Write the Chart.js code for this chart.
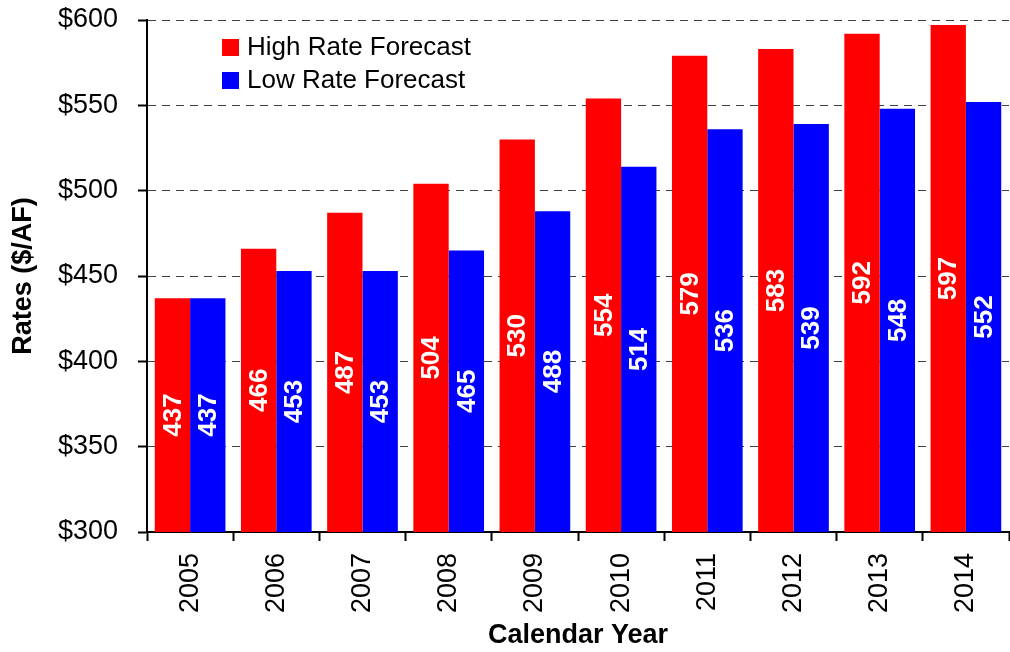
<!DOCTYPE html>
<html>
<head>
<meta charset="utf-8">
<script src="https://cdn.jsdelivr.net/npm/chart.js@4.4.0/dist/chart.umd.min.js"></script>
<style>
  html, body { margin: 0; padding: 0; background: #fff; }
  #wrap { width: 1010px; height: 652px; }
</style>
</head>
<body>
<div id="wrap"><canvas id="rateChart" width="1010" height="652"></canvas></div>
<script>
// data
const years = ['2005', '2006', '2007', '2008', '2009', '2010', '2011', '2012', '2013', '2014'];
const highRate = [437, 466, 487, 504, 530, 554, 579, 583, 592, 597];
const lowRate = [437, 453, 453, 465, 488, 514, 536, 539, 548, 552];
const yTicks = [300, 350, 400, 450, 500, 550, 600];

const FONT = "'Liberation Sans', Arial, sans-serif";

// white value labels, rotated, centred in the visible part of each bar
const barLabels = {
    id: 'barLabels',
    afterDatasetsDraw(chart) {
        const ctx = chart.ctx;
        const bottom = chart.chartArea.bottom;
        ctx.save();
        ctx.fillStyle = '#fff';
        ctx.font = 'bold 26px ' + FONT;
        ctx.textAlign = 'center';
        ctx.textBaseline = 'middle';
        chart.data.datasets.forEach((ds, i) => {
            chart.getDatasetMeta(i).data.forEach((bar, j) => {
                const cy = (bar.y + Math.min(bar.base, bottom)) / 2;
                ctx.save();
                ctx.translate(bar.x + 1, cy);
                ctx.rotate(-Math.PI / 2);
                ctx.fillText(String(ds.data[j]), 0, 0);
                ctx.restore();
            });
        });
        ctx.restore();
    }
};

// legend sitting inside the plot area, top left
const innerLegend = {
    id: 'innerLegend',
    afterDraw(chart) {
        const ctx = chart.ctx;
        const a = chart.chartArea;
        ctx.save();
        ctx.font = '26px ' + FONT;
        ctx.textBaseline = 'middle';
        ctx.textAlign = 'left';
        chart.data.datasets.forEach((ds, i) => {
            const x = a.left + 75;
            const y = a.top + 19 + i * 33;
            ctx.fillStyle = ds.backgroundColor;
            ctx.fillRect(x, y, 17, 17);
            ctx.fillStyle = '#000';
            ctx.fillText(ds.label, x + 25, y + 9);
        });
        ctx.restore();
    }
};

new Chart(document.getElementById('rateChart'), {
    type: 'bar',
    data: {
        labels: years,
        datasets: [
            { label: 'High Rate Forecast', data: highRate, backgroundColor: '#FF0000' },
            { label: 'Low Rate Forecast', data: lowRate, backgroundColor: '#0000FF' }
        ]
    },
    options: {
        responsive: false,
        animation: false,
        devicePixelRatio: 1,
        layout: { padding: { top: 20, right: 1, left: 0, bottom: 0 } },
        datasets: { bar: { categoryPercentage: 0.82, barPercentage: 1.0 } },
        plugins: {
            legend: { display: false },
            tooltip: { enabled: false }
        },
        scales: {
            x: {
                grid: {
                    offset: true,
                    drawOnChartArea: false,
                    tickLength: 9,
                    tickColor: '#000',
                    tickWidth: 2
                },
                border: { display: true, color: '#000', width: 2 },
                ticks: {
                    color: '#000',
                    font: { family: FONT, size: 27 },
                    minRotation: 90,
                    maxRotation: 90,
                    padding: 12
                },
                title: {
                    display: true,
                    text: 'Calendar Year',
                    color: '#000',
                    font: { family: FONT, size: 27, weight: 'bold' },
                    padding: { top: 0, bottom: 0 }
                },
                afterFit(scale) {
                    scale.height = 120;
                    scale.paddingLeft = 0;
                    scale.paddingRight = 0;
                }
            },
            y: {
                min: 300,
                max: 600,
                afterBuildTicks(scale) { scale.ticks = yTicks.map(v => ({ value: v })); },
                grid: {
                    color: '#404040',
                    lineWidth: 1,
                    tickBorderDash: [],
                    tickColor: '#000',
                    tickWidth: 2,
                    tickLength: 9
                },
                border: { display: true, color: '#000', width: 2, dash: [8, 6] },
                ticks: {
                    color: '#000',
                    font: { family: FONT, size: 27 },
                    padding: 20,
                    callback: v => '$' + v
                },
                title: {
                    display: true,
                    text: 'Rates ($/AF)',
                    color: '#000',
                    font: { family: FONT, size: 27, weight: 'bold' },
                    padding: { top: 7, bottom: 4 }
                },
                afterFit(scale) {
                    scale.width = 147;
                    scale.paddingTop = 0;
                    scale.paddingBottom = 0;
                }
            }
        }
    },
    plugins: [barLabels, innerLegend]
});
</script>
</body>
</html>
